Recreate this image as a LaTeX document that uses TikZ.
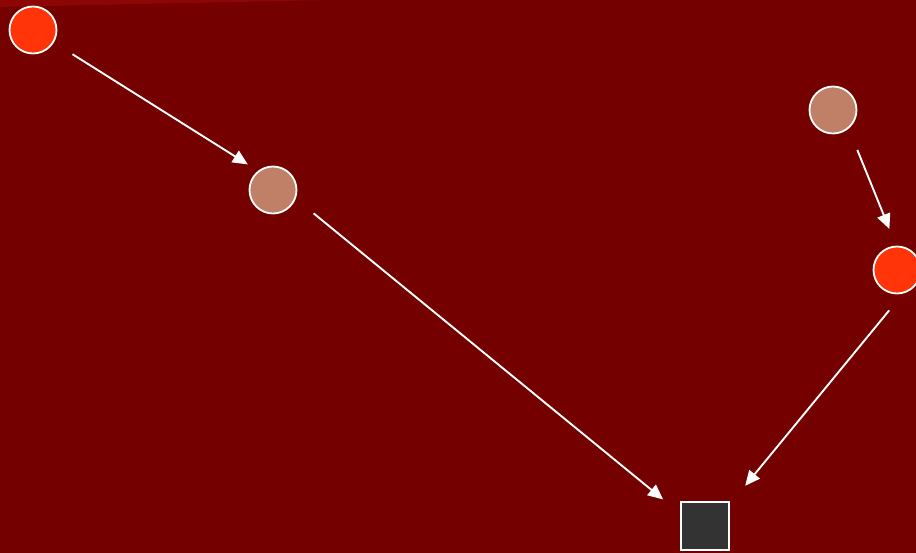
\documentclass[tikz,border=0pt]{standalone}
\usetikzlibrary{arrows.meta}
\definecolor{bgred}{RGB}{116,0,0}
\definecolor{streak}{RGB}{140,6,6}
\definecolor{hot}{RGB}{255,52,8}
\definecolor{tan}{RGB}{192,128,104}
\definecolor{box}{RGB}{51,51,51}
\begin{document}
\begin{tikzpicture}[x=1pt,y=-1pt,
  dot/.style={circle,draw=white,line width=1.8pt,minimum size=47pt,inner sep=0pt},
  hotdot/.style={dot,fill=hot},
  tandot/.style={dot,fill=tan},
  sq/.style={rectangle,draw=white,line width=1.8pt,fill=box,minimum size=48pt,inner sep=0pt},
  conn/.style={draw=white,line width=1.9pt,-{Triangle[length=15pt,width=13.5pt]}}]
\fill[bgred] (0,0) rectangle (916,553);
\useasboundingbox (0,0) rectangle (916,553);
\fill[streak] (0,0) -- (330,0) -- (0,7) -- cycle;
\node[hotdot] (a) at (33,30) {};
\node[tandot] (b) at (273,190) {};
\node[tandot] (c) at (833,110) {};
\node[hotdot] (d) at (897,270) {};
\node[sq] (s) at (705,526) {};
\draw[conn,shorten <=22pt,shorten >=12pt] (a.-31) -- (b.128.7);
\draw[conn,shorten <=23pt,shorten >=22pt] (b.-21) -- (s.153.4);
\draw[conn,shorten <=23pt,shorten >=18pt] (c.-50.4) -- (d.92.6);
\draw[conn,shorten <=21.6pt,shorten >=24pt] (d.-76.3) -- (s.41);
\end{tikzpicture}
\end{document}
